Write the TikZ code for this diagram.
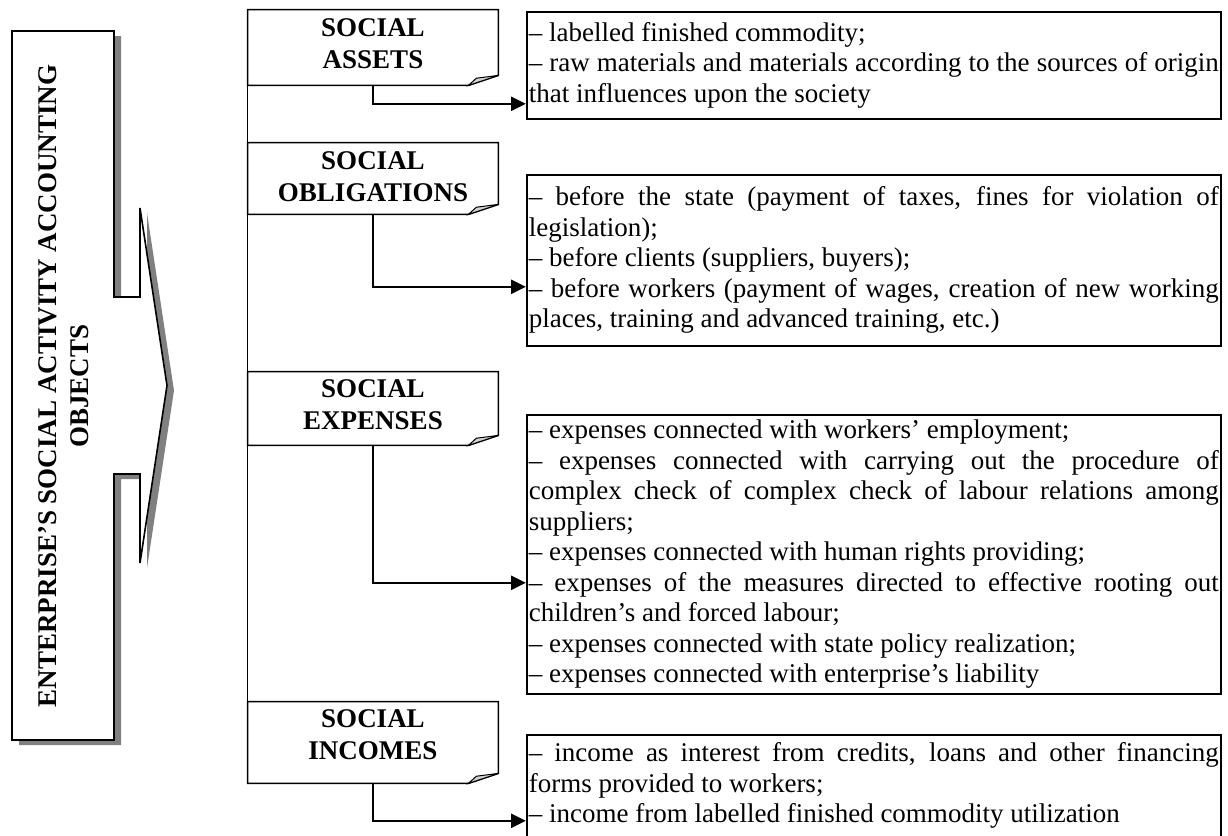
\documentclass[tikz,border=0pt]{standalone}
\usepackage{fontspec}
\setmainfont{Liberation Serif}
\usetikzlibrary{arrows.meta}
\setlength{\parindent}{0pt}

\begin{document}
\begin{tikzpicture}[x=0.5pt, y=-0.5pt, >={Triangle[length=7.5pt, width=7pt]},
        objbox/.style={minimum width=125pt, inner sep=0pt, align=center, font=\fontsize{13.5}{16}\selectfont\bfseries},
        infobox/.style={draw, line width=0.8pt, anchor=north west, text width=345pt, inner xsep=1pt, inner ysep=0pt, align=justify, font=\fontsize{13.5}{15.25}\selectfont}]
        \useasboundingbox (0, 0) rectangle (1228, 836);
        % big callout on the left
        \fill[gray] (19, 36) -- (121, 36) -- (121, 302) -- (147, 302) -- (147, 213) -- (174, 390.5) -- (147, 568) -- (147, 479) -- (121, 479) -- (121, 745) -- (19, 745) -- cycle;
        \draw[line width=0.8pt, fill=white] (12, 31) -- (114, 31) -- (114, 297) -- (140, 297) -- (140, 208) -- (167, 385.5) -- (140, 563) -- (140, 474) -- (114, 474) -- (114, 740) -- (12, 740) -- cycle;
        \node[rotate=90, align=center, font=\fontsize{13.5}{16}\selectfont\bfseries] (objects) at (64, 386) {ENTERPRISE’S SOCIAL ACTIVITY ACCOUNTING\\OBJECTS};
        % object groups
        \node[objbox, minimum height=37.5pt, text depth=3.5pt] (assets) at (373, 47.5) {SOCIAL\\ASSETS};
        \node[objbox, minimum height=35.5pt, text depth=1.5pt] (obligations) at (373, 178.5) {SOCIAL\\OBLIGATIONS};
        \node[objbox, minimum height=36.5pt, text depth=3.5pt] (expenses) at (373, 408.5) {SOCIAL\\EXPENSES};
        \node[objbox, minimum height=40.5pt, text depth=7.5pt] (incomes) at (373, 742.5) {SOCIAL\\INCOMES};
        \draw[line width=0.8pt] (assets.north west) -- (assets.north east) -- ([yshift=5pt]assets.south east) -- ([xshift=-15pt]assets.south east) -- (assets.south west) -- cycle;
        \draw[line width=0.5pt, fill=gray!35] ([xshift=-15pt]assets.south east) -- ([xshift=-11pt, yshift=3.6pt]assets.south east) -- ([yshift=5pt]assets.south east) -- cycle;
        \draw[line width=0.8pt] (obligations.north west) -- (obligations.north east) -- ([yshift=5pt]obligations.south east) -- ([xshift=-15pt]obligations.south east) -- (obligations.south west) -- cycle;
        \draw[line width=0.5pt, fill=gray!35] ([xshift=-15pt]obligations.south east) -- ([xshift=-11pt, yshift=3.6pt]obligations.south east) -- ([yshift=5pt]obligations.south east) -- cycle;
        \draw[line width=0.8pt] (expenses.north west) -- (expenses.north east) -- ([yshift=5pt]expenses.south east) -- ([xshift=-15pt]expenses.south east) -- (expenses.south west) -- cycle;
        \draw[line width=0.5pt, fill=gray!35] ([xshift=-15pt]expenses.south east) -- ([xshift=-11pt, yshift=3.6pt]expenses.south east) -- ([yshift=5pt]expenses.south east) -- cycle;
        \draw[line width=0.8pt] (incomes.north west) -- (incomes.north east) -- ([yshift=5pt]incomes.south east) -- ([xshift=-15pt]incomes.south east) -- (incomes.south west) -- cycle;
        \draw[line width=0.5pt, fill=gray!35] ([xshift=-15pt]incomes.south east) -- ([xshift=-11pt, yshift=3.6pt]incomes.south east) -- ([yshift=5pt]incomes.south east) -- cycle;
        \draw[line width=0.8pt] (assets.south west) -- (incomes.north west);
        % contents
        \node[infobox, minimum height=53.5pt] (assetsinfo) at (526, 11) {-- labelled finished commodity;\\
            -- raw materials and materials according to the sources of origin\linebreak that influences upon the society};
        \node[infobox, minimum height=85.5pt] (obligationsinfo) at (526, 174) {-- before the state (payment of taxes, fines for violation of\linebreak legislation);\\
            -- before clients (suppliers, buyers);\\
            -- before workers (payment of wages, creation of new working\linebreak places, training and advanced training, etc.)};
        \node[infobox, minimum height=139.5pt] (expensesinfo) at (526, 414) {-- expenses connected with workers’ employment;\\
            -- expenses connected with carrying out the procedure of\linebreak complex check of complex check of labour relations among\linebreak suppliers;\\
            -- expenses connected with human rights providing;\\
            -- expenses of the measures directed to effective rooting out\linebreak children’s and forced labour;\\
            -- expenses connected with state policy realization;\\
            -- expenses connected with enterprise’s liability};
        \node[infobox, minimum height=51pt] (incomesinfo) at (526, 734) {-- income as interest from credits, loans and other financing\linebreak forms provided to workers;\\
            -- income from labelled finished commodity utilization};
        \draw[->, line width=1.3pt] (assets.south) |- ([yshift=-19.25pt]assetsinfo.west);
        \draw[->, line width=1.3pt] (obligations.south) |- ([yshift=-13.25pt]obligationsinfo.west);
        \draw[->, line width=1.3pt] (expenses.south) |- ([yshift=-14.25pt]expensesinfo.west);
        \draw[->, line width=1.3pt] (incomes.south) |- ([yshift=-17.5pt]incomesinfo.west);
    \end{tikzpicture}
\end{document}
